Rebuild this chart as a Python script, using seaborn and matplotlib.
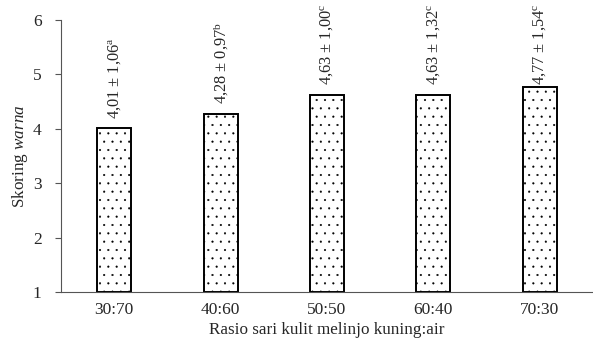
import matplotlib
matplotlib.use("Agg")
import matplotlib.pyplot as plt
import seaborn as sns
import pandas as pd

categories = ["30:70", "40:60", "50:50", "60:40", "70:30"]
values = [4.01, 4.28, 4.63, 4.63, 4.77]
sds = ["1,06", "0,97", "1,00", "1,32", "1,54"]
letters = ["a", "b", "c", "c", "c"]

sns.set_theme(style="white")
plt.rcParams["font.family"] = ["Liberation Serif", "DejaVu Serif"]
plt.rcParams["mathtext.fontset"] = "custom"
plt.rcParams["mathtext.rm"] = "Liberation Serif"
plt.rcParams["mathtext.it"] = "Liberation Serif:italic"
plt.rcParams["hatch.linewidth"] = 0.3
plt.rcParams["hatch.color"] = "#333333"

df = pd.DataFrame({"ratio": categories, "score": values})

fig = plt.figure(figsize=(5.93, 3.40), dpi=100)
ax = fig.add_axes([0.103, 0.141, 0.897, 0.80])
sns.barplot(data=df, x="ratio", y="score", ax=ax, color="white",
            edgecolor="black", linewidth=1.4, width=0.32)
for p in ax.patches:
    p.set_hatch("..")
    p.set_facecolor("white")
    top = p.get_y() + p.get_height()
    p.set_y(1)
    p.set_height(top - 1)

for i, (v, s, l) in enumerate(zip(values, sds, letters)):
    v_str = f"{v:.2f}".replace(".", ",")
    txt = f"{v_str} ± {s}" + r"$^{\mathrm{" + l + "}}$"
    ax.text(i, min(v + 0.17, 4.8), txt, rotation=90, ha="center", va="bottom",
            fontsize=11.8)

ax.set_ylim(1, 6)
ax.set_xlim(-0.5, 4.5)
ax.set_yticks([1, 2, 3, 4, 5, 6])
ax.tick_params(axis="y", left=True, length=4, width=0.8, color="#555555", labelsize=12.5, pad=10)
ax.tick_params(axis="x", bottom=False, labelsize=12.5, pad=1)
ax.set_xlabel("Rasio sari kulit melinjo kuning:air", fontsize=12.3, labelpad=3)
ax.set_ylabel(r"Skoring $\mathit{warna}$", fontsize=12.3, labelpad=2)
for side in ["top", "right"]:
    ax.spines[side].set_visible(False)
for side in ["left", "bottom"]:
    ax.spines[side].set_color("#555555")
    ax.spines[side].set_linewidth(0.8)

fig.savefig("out.png", dpi=100)
